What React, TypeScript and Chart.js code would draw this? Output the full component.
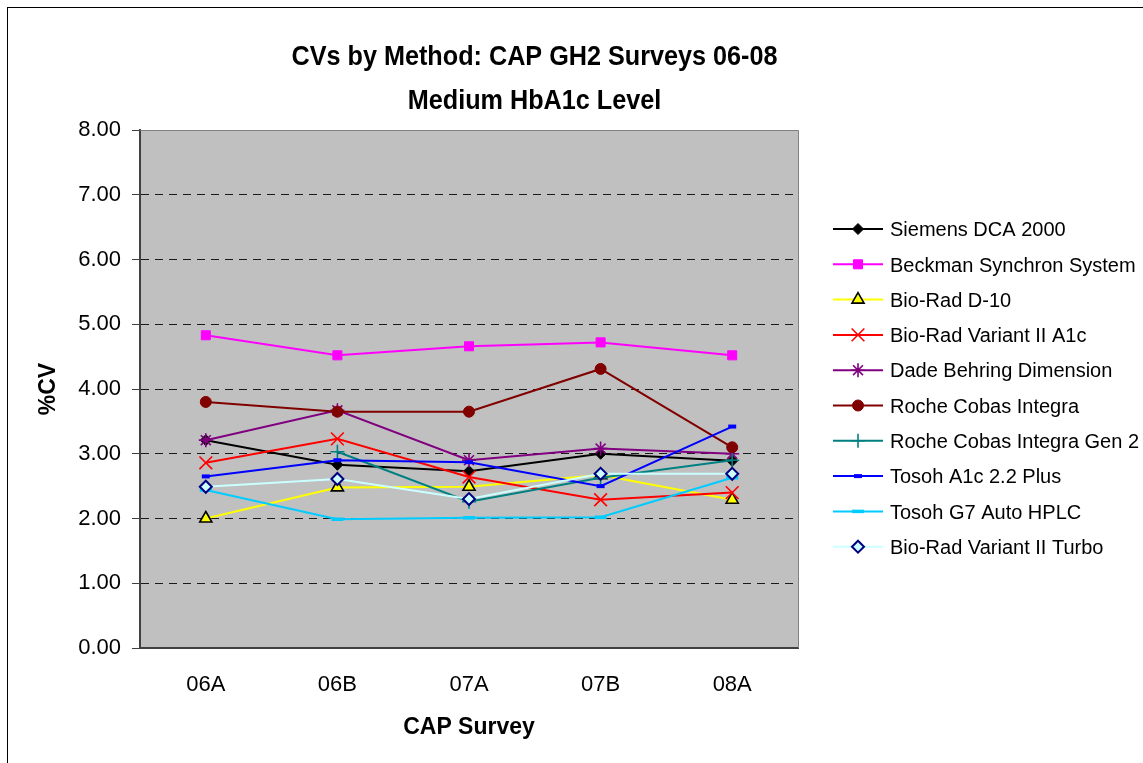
import React, { useEffect, useRef } from 'react';
import { Chart, registerables } from 'chart.js';
import { drawPoint } from 'chart.js/helpers';

Chart.register(...registerables);

// ---------- data ----------
const surveys = ['06A', '06B', '07A', '07B', '08A'];
const yTickLabels = ['0.00', '1.00', '2.00', '3.00', '4.00', '5.00', '6.00', '7.00', '8.00'];
const titleLines = ['CVs by Method: CAP GH2 Surveys 06-08', 'Medium HbA1c Level'];
const xAxisTitle = 'CAP Survey';
const yAxisTitle = '%CV';

const seriesNames = [
  'Siemens DCA 2000',
  'Beckman Synchron System',
  'Bio-Rad D-10',
  'Bio-Rad Variant II A1c',
  'Dade Behring Dimension',
  'Roche Cobas Integra',
  'Roche Cobas Integra Gen 2',
  'Tosoh A1c 2.2 Plus',
  'Tosoh G7 Auto HPLC',
  'Bio-Rad Variant II Turbo',
];

const siemensDca2000 = [3.21, 2.83, 2.73, 3.0, 2.89];
const beckmanSynchron = [4.83, 4.52, 4.66, 4.72, 4.52];
const bioRadD10 = [2.0, 2.48, 2.49, 2.67, 2.29];
const bioRadVariantA1c = [2.86, 3.23, 2.64, 2.29, 2.4];
const dadeBehringDimension = [3.21, 3.67, 2.9, 3.08, 3.0];
const rocheCobasIntegra = [3.8, 3.65, 3.65, 4.31, 3.1];
const rocheCobasIntegraGen2 = [null, 3.03, 2.26, 2.63, 2.9];
const tosohA1c22Plus = [2.65, 2.9, 2.87, 2.5, 3.42];
const tosohG7 = [2.44, 1.99, 2.01, 2.02, 2.63];
const bioRadVariantTurbo = [2.49, 2.61, 2.3, 2.69, 2.69];

const seriesValues = [
  siemensDca2000,
  beckmanSynchron,
  bioRadD10,
  bioRadVariantA1c,
  dadeBehringDimension,
  rocheCobasIntegra,
  rocheCobasIntegraGen2,
  tosohA1c22Plus,
  tosohG7,
  bioRadVariantTurbo,
];

// ---------- styles ----------
const seriesStyles = [
  { line: '#000000', style: 'rectRot', radius: 5.5, fill: '#000000', border: '#000000', bw: 1 },
  { line: '#FF00FF', style: 'rect', radius: 6.4, fill: '#FF00FF', border: '#FF00FF', bw: 1 },
  { line: '#FFFF00', style: 'triangle', radius: 7, fill: '#FFFF00', border: '#000000', bw: 1.6 },
  { line: '#FF0000', style: 'crossRot', radius: 9, fill: '#FF0000', border: '#FF0000', bw: 1.6 },
  { line: '#800080', style: 'star', radius: 7, fill: '#800080', border: '#800080', bw: 1.6 },
  { line: '#800000', style: 'circle', radius: 5.5, fill: '#800000', border: '#800000', bw: 1 },
  { line: '#008080', style: 'cross', radius: 7, fill: '#008080', border: '#008080', bw: 1.6 },
  { line: '#0000FF', style: 'line', radius: 4, fill: '#0000FF', border: '#0000FF', bw: 4 },
  { line: '#00CCFF', style: 'line', radius: 6, fill: '#00CCFF', border: '#00CCFF', bw: 3.5 },
  { line: '#CCFFFF', style: 'rectRot', radius: 6, fill: '#CCFFFF', border: '#000080', bw: 2 },
];

const FONT = '"Liberation Sans", Arial, Helvetica, sans-serif';

const decorPlugin = {
  id: 'decor',
  beforeDraw(chart: any) {
    const { ctx, chartArea: a } = chart;
    ctx.save();
    ctx.fillStyle = '#C0C0C0';
    ctx.fillRect(a.left, a.top, a.right - a.left, a.bottom - a.top);
    ctx.restore();
  },
  beforeDatasetsDraw(chart: any) {
    const { ctx, chartArea: a } = chart;
    ctx.save();
    ctx.strokeStyle = '#808080';
    ctx.lineWidth = 1;
    ctx.beginPath();
    ctx.moveTo(a.left, a.top + 0.5);
    ctx.lineTo(a.right + 0.5, a.top + 0.5);
    ctx.lineTo(a.right + 0.5, a.bottom);
    ctx.stroke();
    ctx.restore();
  },
  afterDraw(chart: any) {
    const { ctx } = chart;
    ctx.save();
    // title (slightly condensed, as in the reference)
    ctx.fillStyle = '#000';
    ctx.textAlign = 'center';
    ctx.textBaseline = 'alphabetic';
    ctx.font = `bold 28px ${FONT}`;
    const sx = 0.9;
    ctx.save();
    ctx.translate(534.5, 0);
    ctx.scale(sx, 1);
    ctx.fillText(titleLines[0], 0, 64.5);
    ctx.fillText(titleLines[1], 0, 109);
    ctx.restore();

    // legend
    ctx.font = `20px ${FONT}`;
    ctx.textAlign = 'left';
    seriesNames.forEach((name, i) => {
      const s = seriesStyles[i];
      const y = 229 + i * 35.3;
      ctx.strokeStyle = s.line;
      ctx.lineWidth = 2;
      ctx.setLineDash([]);
      ctx.beginPath();
      ctx.moveTo(833, y);
      ctx.lineTo(883, y);
      ctx.stroke();
      ctx.fillStyle = s.fill;
      ctx.strokeStyle = s.border;
      ctx.lineWidth = s.bw;
      drawPoint(ctx, { pointStyle: s.style, radius: s.radius, borderWidth: s.bw, rotation: 0 } as any, 858, y);
      ctx.fillStyle = '#000';
      ctx.fillText(name, 890, y + 7.2);
    });

    // outer frame
    ctx.strokeStyle = '#000';
    ctx.lineWidth = 1;
    ctx.strokeRect(7.5, 7.5, 1150, 770);
    ctx.restore();
  },
};

export default function App() {
  const ref = useRef<HTMLCanvasElement | null>(null);

  useEffect(() => {
    if (!ref.current) return;
    const n = seriesNames.length;
    const chart = new Chart(ref.current, {
      type: 'line',
      data: {
        labels: surveys,
        datasets: seriesNames.map((name, i) => {
          const s = seriesStyles[i];
          return {
            label: name,
            data: seriesValues[i],
            borderColor: s.line,
            borderWidth: 2,
            backgroundColor: s.fill,
            pointStyle: s.style as any,
            pointRadius: s.radius,
            pointBackgroundColor: s.fill,
            pointBorderColor: s.border,
            pointBorderWidth: s.bw,
            tension: 0,
            fill: false,
            spanGaps: false,
            order: n - i,
          };
        }),
      },
      options: {
        responsive: false,
        animation: false,
        devicePixelRatio: 1,
        layout: { padding: { top: 130, right: 345, left: 0, bottom: 0 } },
        plugins: {
          legend: { display: false },
          title: { display: false },
          tooltip: { enabled: false },
        },
        scales: {
          x: {
            type: 'category',
            offset: true,
            afterFit: (s: any) => {
              s.height = 115;
            },
            grid: { display: false, drawTicks: false },
            border: { display: true, color: '#404040', width: 2 },
            ticks: {
              color: '#000',
              font: { family: FONT, size: 22 },
              padding: 24,
              maxRotation: 0,
            },
            title: {
              display: true,
              text: xAxisTitle,
              color: '#000',
              font: { family: FONT, size: 23, weight: 'bold' },
              padding: { top: 0, bottom: 22 },
            },
          },
          y: {
            min: 0,
            max: 8,
            afterFit: (s: any) => {
              s.width = 140;
            },
            grid: {
              color: (c: any) =>
                c.tick && (c.tick.value === 0 || c.tick.value === 8) ? 'rgba(0,0,0,0)' : '#1a1a1a',
              lineWidth: 1,
              drawTicks: true,
              tickLength: 8,
              tickColor: '#404040',
              tickWidth: 1,
              tickBorderDash: [],
            },
            border: { display: true, color: '#404040', width: 2, dash: [8, 6] },
            ticks: {
              stepSize: 1,
              color: '#000',
              font: { family: FONT, size: 22 },
              padding: 11,
              callback: (_v: any, idx: number) => yTickLabels[idx],
            },
            title: {
              display: true,
              text: yAxisTitle,
              color: '#000',
              font: { family: FONT, size: 23, weight: 'bold' },
              padding: { top: 35, bottom: 0 },
            },
          },
        },
      },
      plugins: [decorPlugin],
    } as any);
    return () => chart.destroy();
  }, []);

  return (
    <div style={{ position: 'fixed', left: 0, top: 0, width: 1143, height: 763, background: '#fff' }}>
      <canvas ref={ref} width={1143} height={763} style={{ display: 'block', width: 1143, height: 763 }} />
    </div>
  );
}
